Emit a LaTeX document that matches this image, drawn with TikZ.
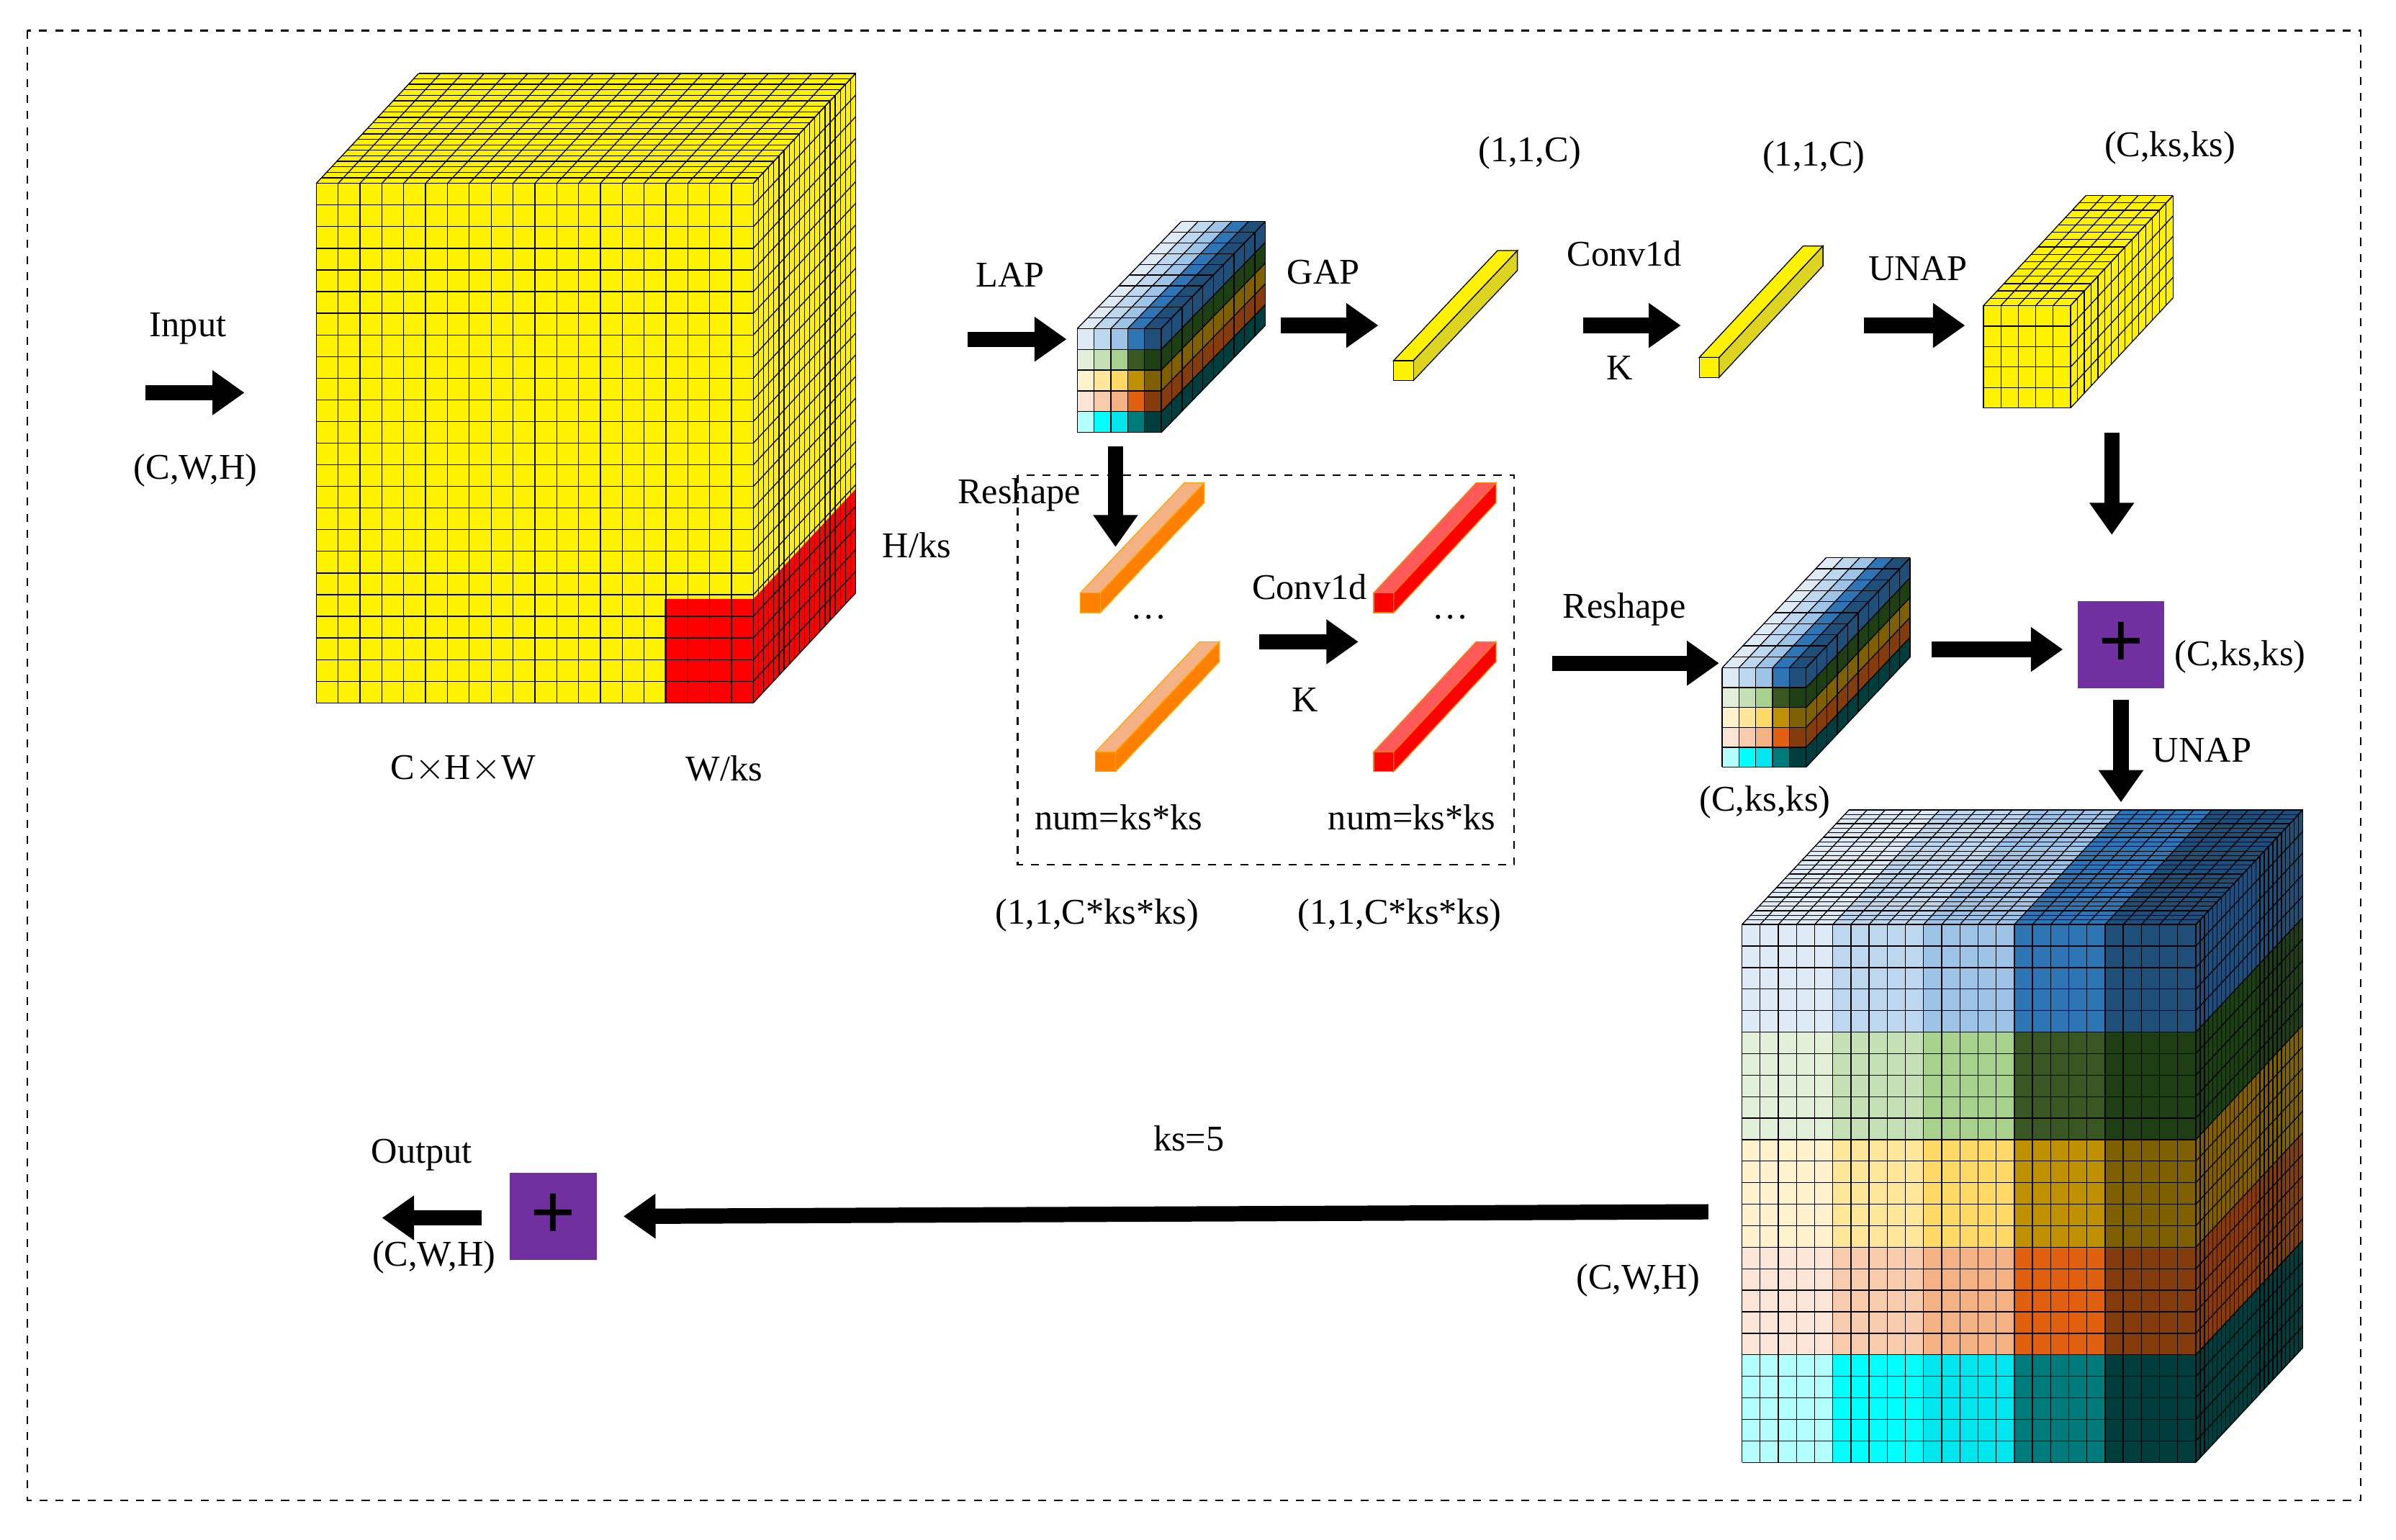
\documentclass[tikz,border=0pt]{standalone}
\usepackage{fontspec}
\setmainfont{Liberation Serif}
\usetikzlibrary{arrows.meta}

% colours of the blocks: row letter, column number
\definecolor{B1}{HTML}{DEEBF7}\definecolor{B2}{HTML}{BDD7EE}\definecolor{B3}{HTML}{9DC3E6}\definecolor{B4}{HTML}{2E75B6}\definecolor{B5}{HTML}{1F4E79}
\definecolor{G1}{HTML}{E2F0D9}\definecolor{G2}{HTML}{C5E0B4}\definecolor{G3}{HTML}{A9D18E}\definecolor{G4}{HTML}{385723}\definecolor{G5}{HTML}{1E3F14}
\definecolor{Y1}{HTML}{FFF2CC}\definecolor{Y2}{HTML}{FFE699}\definecolor{Y3}{HTML}{FFD966}\definecolor{Y4}{HTML}{BF9000}\definecolor{Y5}{HTML}{7F6000}
\definecolor{O1}{HTML}{FBE5D6}\definecolor{O2}{HTML}{F8CBAD}\definecolor{O3}{HTML}{F4B183}\definecolor{O4}{HTML}{E0600F}\definecolor{O5}{HTML}{843C0C}
\definecolor{C1}{HTML}{B3FFFF}\definecolor{C2}{HTML}{00FFFF}\definecolor{C3}{HTML}{00E6EE}\definecolor{C4}{HTML}{007B7B}\definecolor{C5}{HTML}{003D3D}
\definecolor{plusbox}{HTML}{7030A0}

% grid lines of a cube: x y w h dx dy Nx Ny D
\newcommand\cgrid[9]{%
  \foreach \i in {0,...,#7}
    {\draw ({#1+\i*(#3)/#7},#2) -- ++(0,#4);
     \draw ({#1+\i*(#3)/#7},#2) -- ++(#5,#6);}
  \foreach \i in {0,...,#8}
    {\draw (#1,{#2+\i*(#4)/#8}) -- ++(#3,0);
     \draw ({#1+#3},{#2+\i*(#4)/#8}) -- ++(#5,#6);}
  \foreach \j in {0,...,#9}
    {\draw ({#1+\j*(#5)/#9},{#2+\j*(#6)/#9}) -- ++(#3,0);
     \draw ({#1+#3+\j*(#5)/#9},{#2+\j*(#6)/#9}) -- ++(0,#4);}
}
% coloured cube: x y w h dx dy N D
\newcommand\ccube[8]{%
  \foreach \rn [count=\r] in {B,G,Y,O,C}
    {\foreach \c in {1,...,5}
       \fill[\rn\c] ({#1+(\c-1)*(#3)/5},{#2+(\r-1)*(#4)/5}) rectangle ++({(#3)/5},{(#4)/5});
     \fill[\rn5] ({#1+#3},{#2+(\r-1)*(#4)/5}) -- ++(#5,#6) -- ++(0,{(#4)/5}) -- ++({-(#5)},{-(#6)}) -- cycle;}
  \foreach \c in {1,...,5}
    \fill[B\c] ({#1+(\c-1)*(#3)/5},#2) -- ++({(#3)/5},0) -- ++(#5,#6) -- ++({-(#3)/5},0) -- cycle;
  \cgrid{#1}{#2}{#3}{#4}{#5}{#6}{#7}{#7}{#8}
}
% rod: x y size dx dy front top side edge
\newcommand\rod[9]{%
  \filldraw[fill=#7,draw=#9] (#1,#2) -- ++(#4,#5) -- ++(#3,0) -- ++({-(#4)},{-(#5)}) -- cycle;
  \filldraw[fill=#8,draw=#9] ({#1+#3},#2) -- ++(#4,#5) -- ++(0,#3) -- ++({-(#4)},{-(#5)}) -- cycle;
  \filldraw[fill=#6,draw=#9] (#1,#2) rectangle ++(#3,#3);
}

\begin{document}
\begin{tikzpicture}[x=0.02cm,y=-0.02cm,line width=0.35pt,
    lbl/.style={font=\fontsize{13.5}{15}\selectfont,inner sep=1pt},
    blk/.style={line width=0.2cm,-{Triangle[length=0.42cm,width=0.56cm]}},
    plus/.style={fill=plusbox,minimum size=1.14cm,inner sep=0pt,font=\fontsize{30}{30}\selectfont\bfseries}]
  \useasboundingbox (0,0) rectangle (1568,1007.8);
  \draw[dashed,line width=0.6pt] (18,20) rectangle (1545,982);

  % input feature map
  \fill[yellow] (207,120) -- ++(67,-72) -- ++(286,0) -- ++(0,340) -- ++(-67,72) -- ++(-286,0) -- cycle;
  \fill[red] (435,392) rectangle (493,460);
  \fill[red] (493,392) -- (560,320) -- (560,388) -- (493,460) -- cycle;
  \cgrid{207}{120}{286}{340}{67}{-72}{20}{24}{20}

  % pooled maps
  \ccube{705}{215}{55}{68}{68}{-70}{5}{10}
  \rod{912}{236}{13}{68}{-72}{yellow}{yellow}{yellow!85!black}{black}
  \rod{1112}{234}{13}{68}{-73}{yellow}{yellow}{yellow!85!black}{black}
  \fill[yellow] (1298,200) -- ++(67,-72) -- ++(57,0) -- ++(0,67) -- ++(-67,72) -- ++(-57,0) -- cycle;
  \cgrid{1298}{200}{57}{67}{67}{-72}{5}{5}{15}
  \rod{707}{388}{13}{68}{-72}{orange}{O3}{orange}{orange!70!yellow}
  \rod{717}{492}{13}{68}{-72}{orange}{O3}{orange}{orange!70!yellow}
  \rod{899}{388}{13}{67}{-72}{red}{red!65!white}{red}{orange}
  \rod{899}{492}{13}{67}{-72}{red}{red!65!white}{red}{orange}
  \draw[dashed,line width=0.6pt] (666,311) rectangle (991,566);
  \ccube{1127}{437}{55}{65}{68}{-72}{5}{10}
  \ccube{1140}{605}{297}{352}{70}{-75}{25}{25}

  % sums
  \node[plus] (sum1) at (1388,422) {+};
  \node[plus] (sum2) at (362,796) {+};

  % arrows
  \foreach \n/\a/\b in {inp/{(95,257)}/{(160,257)}, lap/{(633,222)}/{(698,222)},
      gap/{(838,213)}/{(902,213)}, cva/{(1036,213)}/{(1100,213)},
      unp/{(1220,213)}/{(1286,213)}, rsa/{(730,292)}/{(730,358)},
      cvb/{(824,420)}/{(889,420)}, rsb/{(1016,434)}/{(1125,434)},
      add/{(1264,425)}/{(1350,425)}, dna/{(1382,283)}/{(1382,350)},
      dnb/{(1388,458)}/{(1388,525)}, bck/{(1118,793)}/{(408,796)},
      out/{(315,797)}/{(250,797)}}
    \draw[blk] \a coordinate (\n s) -- \b coordinate (\n e);

  % labels
  \foreach \n/\p/\t in {input/{(123,215)}/Input, cwh1/{(128,308)}/{(C,W,H)},
      hks/{(600,357)}/{H/ks}, chw/{(303,503)}/{C$\times$H$\times$W}, wks/{(474,503)}/{W/ks},
      lapl/{(661,180)}/LAP, gapl/{(866,178)}/GAP, one1/{(1001,100)}/{(1,1,C)},
      cv1/{(1063,166)}/Conv1d, k1/{(1060,241)}/K, one2/{(1187,103)}/{(1,1,C)},
      unap1/{(1255,176)}/UNAP, cks1/{(1420,97)}/{(C,ks,ks)}, rs1/{(667,324)}/Reshape,
      dt1/{(752,404)}/{\ldots}, cv2/{(857,384)}/Conv1d, k2/{(854,458)}/K, dt2/{(949,404)}/{\ldots},
      num1/{(732,535)}/num=ks*ks, num2/{(924,535)}/num=ks*ks,
      cc1/{(718,599)}/{(1,1,C*ks*ks)}, cc2/{(916,599)}/{(1,1,C*ks*ks)},
      rs2/{(1063,399)}/Reshape, cks2/{(1155,525)}/{(C,ks,ks)}, cks3/{(1466,430)}/{(C,ks,ks)},
      unap2/{(1441,491)}/UNAP, ks/{(778,745)}/ks=5, cwh2/{(1072,838)}/{(C,W,H)},
      output/{(276,756)}/Output, cwh3/{(284,823)}/{(C,W,H)}}
    \node[lbl] (\n) at \p {\t};
\end{tikzpicture}
\end{document}
